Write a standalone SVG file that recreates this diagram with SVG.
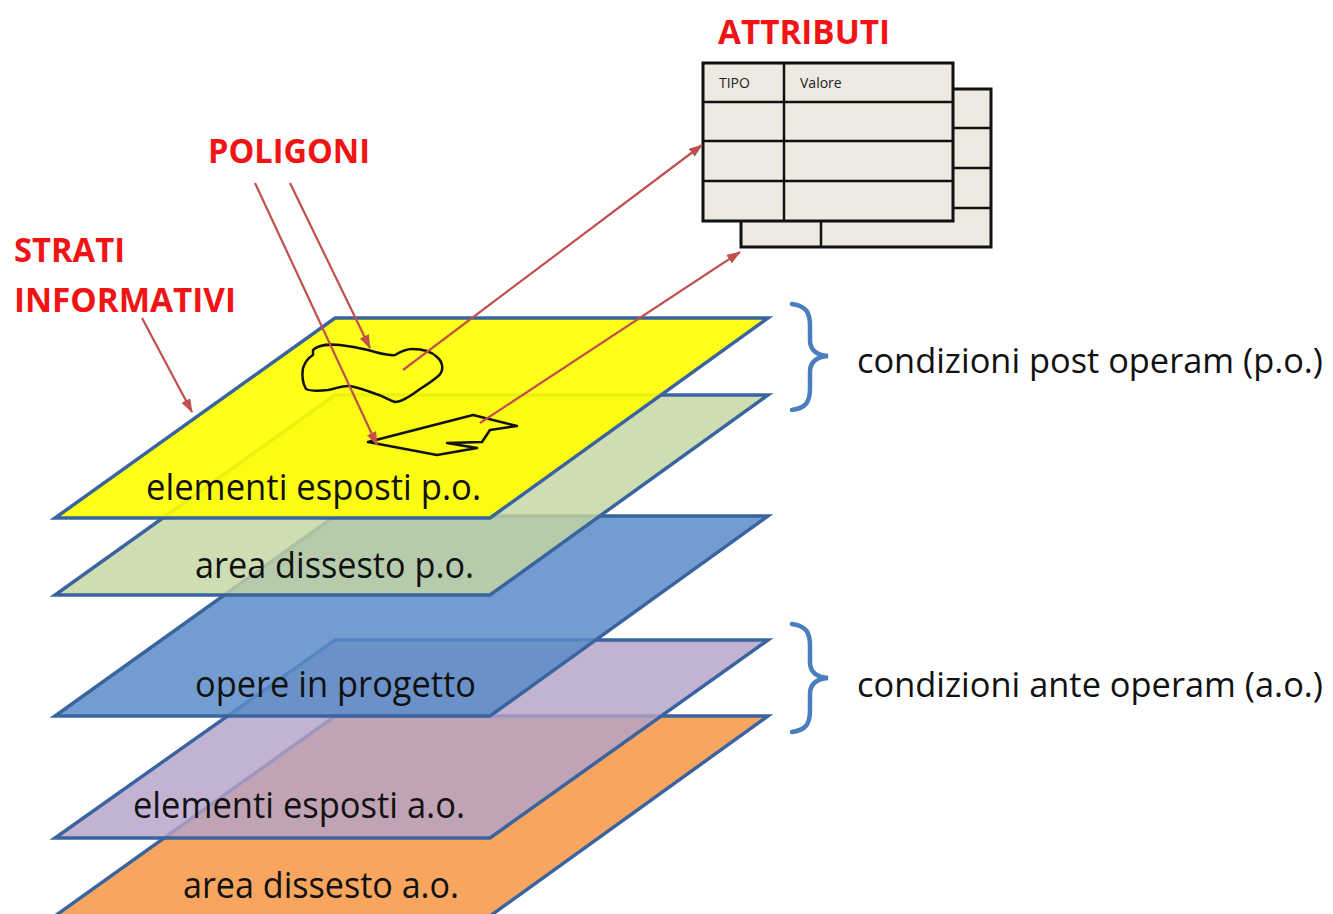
<svg xmlns="http://www.w3.org/2000/svg" width="1333" height="914" viewBox="0 0 1333 914">
<style>
.layer{stroke:#3a64a0;stroke-width:3.5;stroke-linejoin:miter}
.lbl{font-family:"Open Sans","Noto Sans",sans-serif;font-size:36px;fill:#111}
.side{font-family:"Open Sans","Noto Sans",sans-serif;font-size:35px;fill:#111}
.red{font-family:"Open Sans","Noto Sans",sans-serif;font-weight:bold;font-size:34px;fill:#f01414}
.arrow{stroke:#c0504d;stroke-width:2.2;fill:none}
.tbl{fill:#edeae2;stroke:#111;stroke-width:3}
.tline{stroke:#111;stroke-width:2.5}
.brace{fill:none;stroke:#4a7ebf;stroke-width:4.5;stroke-linecap:round}
.poly{fill:none;stroke:#111;stroke-width:2.5;stroke-linejoin:round}
.small{font-family:"Open Sans","Noto Sans",sans-serif;font-size:14px;fill:#222}
</style>
<defs>
<marker id="ah" markerWidth="14" markerHeight="10" refX="13" refY="5" orient="auto" markerUnits="userSpaceOnUse">
<path d="M0,0 L14,5 L0,10 Z" fill="#c0504d"/>
</marker>
</defs>
<rect width="1333" height="914" fill="#ffffff"/>

<g id="layer-area-ao">
<polygon class="layer" points="335,716 768,716 490,916 55,916" fill="#f8a65f"/>
<text class="lbl" x="183" y="898" textLength="276" lengthAdjust="spacingAndGlyphs">area dissesto a.o.</text>
</g>
<g id="layer-elementi-ao">
<polygon class="layer" points="335,640 768,640 490,838 55,838" fill="#b3a2c7" fill-opacity="0.82"/>
<text class="lbl" x="133" y="818" textLength="332" lengthAdjust="spacingAndGlyphs">elementi esposti a.o.</text>
</g>
<g id="layer-opere">
<polygon class="layer" points="335,516 768,516 490,716 55,716" fill="#5b8cc8" fill-opacity="0.85"/>
<text class="lbl" x="195" y="697" textLength="281" lengthAdjust="spacingAndGlyphs">opere in progetto</text>
</g>
<g id="layer-area-po">
<polygon class="layer" points="335,395 768,395 490,595 55,595" fill="#c4d5a2" fill-opacity="0.82"/>
<text class="lbl" x="195" y="578" textLength="279" lengthAdjust="spacingAndGlyphs">area dissesto p.o.</text>
</g>
<g id="layer-elementi-po">
<polygon class="layer" points="335,318 768,318 490,518 55,518" fill="#ffff00" fill-opacity="0.9"/>
<text class="lbl" x="146" y="500" textLength="335" lengthAdjust="spacingAndGlyphs">elementi esposti p.o.</text>
<path id="poly1" class="poly" d="M313,350 C318,345 330,344 340,345 C350,346 360,348 368,350 C378,353 388,356 395,355 C400,352 405,349 412,349 C420,349 430,350 437,357 C444,363 444,372 437,377 C431,382 428,384 420,389 C412,395 402,402 395,402 C388,400 384,396 376,394 C368,391 360,388 350,386 C342,385 336,389 328,390 C318,391 310,391 306,389 C302,382 302,374 303,368 C305,362 308,358 313,355 Z"/>
<polygon id="poly2" class="poly" points="368,442 473,415 517,426 490,430 482,442 447,443 477,448 437,455"/>
</g>

<g id="table-back">
<rect class="tbl" x="741" y="89" width="250" height="158"/>
<line class="tline" x1="741" y1="128" x2="991" y2="128"/>
<line class="tline" x1="741" y1="168" x2="991" y2="168"/>
<line class="tline" x1="741" y1="208" x2="991" y2="208"/>
<line class="tline" x1="821" y1="89" x2="821" y2="247"/>
</g>
<g id="table-front">
<rect class="tbl" x="703" y="63" width="250" height="158"/>
<line class="tline" x1="703" y1="102" x2="953" y2="102"/>
<line class="tline" x1="703" y1="141" x2="953" y2="141"/>
<line class="tline" x1="703" y1="181" x2="953" y2="181"/>
<line class="tline" x1="784" y1="63" x2="784" y2="221"/>
<text class="small" x="719" y="88">TIPO</text>
<text class="small" x="800" y="88">Valore</text>
</g>

<g id="labels">
<text class="red" x="718" y="44" textLength="172" lengthAdjust="spacingAndGlyphs">ATTRIBUTI</text>
<text class="red" x="208" y="163" textLength="162" lengthAdjust="spacingAndGlyphs">POLIGONI</text>
<text class="red" x="14" y="262" textLength="111" lengthAdjust="spacingAndGlyphs">STRATI</text>
<text class="red" x="14" y="312" textLength="222" lengthAdjust="spacingAndGlyphs">INFORMATIVI</text>
<text class="side" x="857" y="373" textLength="466" lengthAdjust="spacingAndGlyphs">condizioni post operam (p.o.)</text>
<text class="side" x="857" y="697" textLength="466" lengthAdjust="spacingAndGlyphs">condizioni ante operam (a.o.)</text>
</g>

<g id="braces">
<path class="brace" d="M792,304 C806,306 810,312 810,326 L810,340 C810,350 816,355 828,356 C816,357 810,362 810,372 L810,388 C810,402 806,408 792,410"/>
<path class="brace" d="M792,624 C806,626 810,632 810,646 L810,662 C810,672 816,677 828,678 C816,679 810,684 810,694 L810,710 C810,724 806,730 792,732"/>
</g>

<g id="connectors">
<line class="arrow" x1="142" y1="318" x2="192" y2="412" marker-end="url(#ah)"/>
<line class="arrow" x1="255" y1="183" x2="377" y2="445" marker-end="url(#ah)"/>
<line class="arrow" x1="290" y1="183" x2="370" y2="348" marker-end="url(#ah)"/>
<line class="arrow" x1="403" y1="370" x2="702" y2="145" marker-end="url(#ah)"/>
<line class="arrow" x1="480" y1="423" x2="740" y2="252" marker-end="url(#ah)"/>
</g>
</svg>
